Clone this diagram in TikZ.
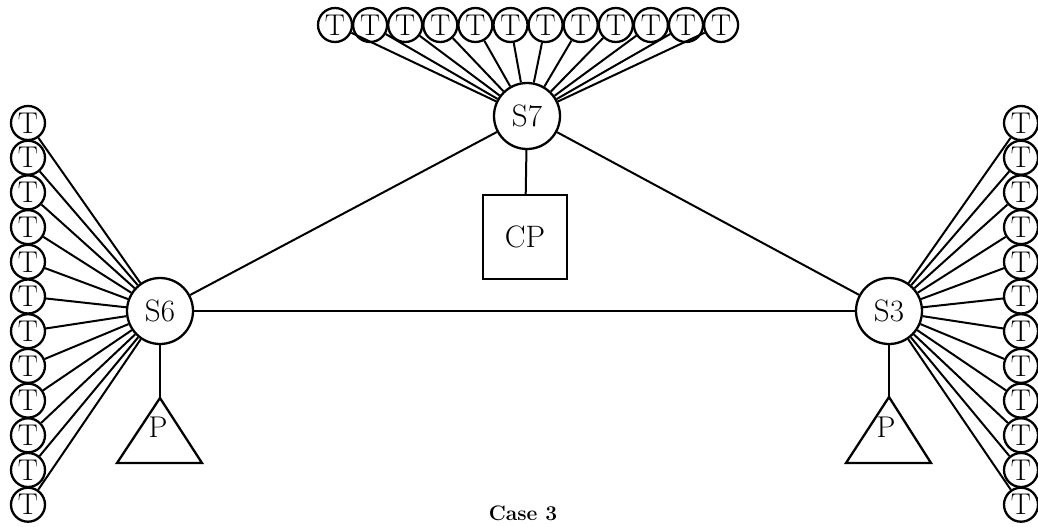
\documentclass[tikz,border=0pt]{standalone}
\begin{document}
\begin{tikzpicture}[x=1pt,y=-1pt,
  tnode/.style={circle,draw,line width=2.3pt,minimum size=34pt,inner sep=0pt,font=\fontsize{30}{30}\selectfont},
  snode/.style={circle,draw,line width=2.3pt,minimum size=66pt,inner sep=0pt,font=\fontsize{31}{31}\selectfont},
  cpnode/.style={rectangle,draw,line width=2.3pt,minimum size=84pt,inner sep=0pt,font=\fontsize{31}{31}\selectfont},
  tri/.style={draw,line width=2.3pt,line join=miter},
  plabel/.style={inner sep=0pt,font=\fontsize{30}{30}\selectfont},
  link/.style={line width=2pt}]
\useasboundingbox (0,0) rectangle (1038,527);
% switches
\node[snode] (S7) at (527,116) {S7};
\node[snode] (S6) at (160,311) {S6};
\node[snode] (S3) at (889,311) {S3};
\node[cpnode] (CP) at (525,237) {CP};
% terminals
\foreach \i in {0,...,11} {
  \node[tnode] (top\i) at ({335+35.1*\i},25) {T};
  \node[tnode] (left\i) at (28,{123+34.7*\i}) {T};
  \node[tnode] (right\i) at (1021,{123+34.7*\i}) {T};
  \draw[link] (top\i) -- (S7);
  \draw[link] (left\i) -- (S6);
  \draw[link] (right\i) -- (S3);
}
% trunk lines
\draw[link] (S7) -- (S6);
\draw[link] (S7) -- (S3);
\draw[link] (S6) -- (S3);
\draw[link] (S7) -- (CP);
% P triangles
\coordinate (P6top) at (160,398);
\coordinate (P3top) at (889,397);
\draw[tri] (P6top) -- (117,463) -- (202,463) -- cycle;
\draw[tri] (P3top) -- (846,463) -- (931,463) -- cycle;
\node[plabel] (P6) at (158,427) {P};
\node[plabel] (P3) at (886,427) {P};
\draw[link] (S6) -- (P6top);
\draw[link] (S3) -- (P3top);
% caption
\node[font=\bfseries\fontsize{21}{21}\selectfont] (cap) at (523,513) {Case 3};
\end{tikzpicture}
\end{document}
